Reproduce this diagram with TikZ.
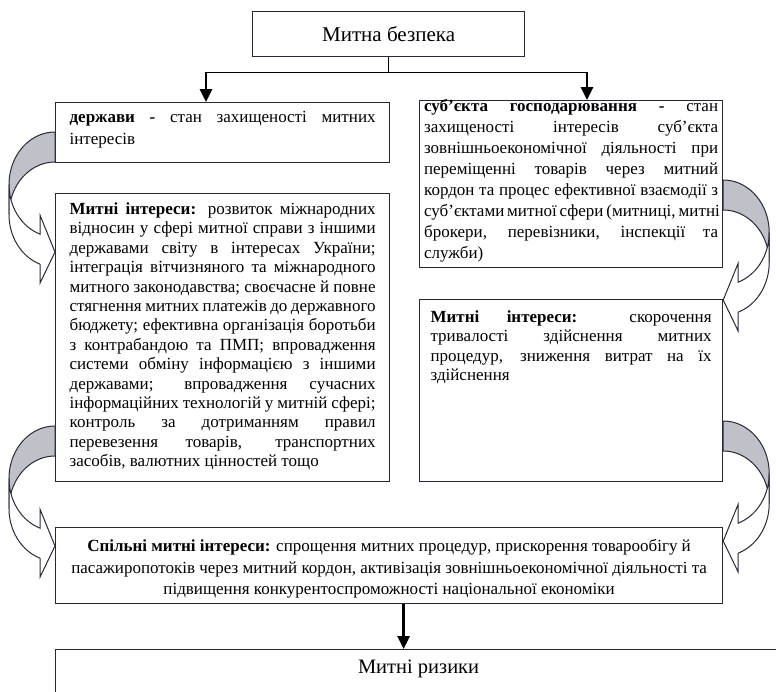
\documentclass[tikz,border=0pt]{standalone}
\usepackage{fontspec}
\setmainfont{Liberation Serif}
\usetikzlibrary{arrows.meta}
\definecolor{edgec}{RGB}{40,40,56}
\definecolor{backc}{RGB}{192,192,200}
% one justified line of a fixed-width paragraph
\newcommand{\jl}[1]{\makebox[\linewidth][s]{#1}}
\newcommand{\bodyfont}{\fontsize{17}{19.4}\selectfont}
\begin{document}
\begin{tikzpicture}[x=1pt,y=-1pt,
  box/.style={draw=edgec, line width=1.2pt, fill=white, inner sep=0pt,
    anchor=north west, font=\bodyfont},
  link/.style={line width=1.3pt, draw=black},
  conn/.style={line width=2.6pt, draw=black, -{Triangle[width=12pt,length=13pt]}},
  % curved block arrow: darker back band on top, front band ending in a head
  bandarrow/.pic={
    \filldraw[fill=backc, draw=edgec, line width=1pt]
      (0,0) -- plot[domain=270:180, samples=40] ({46*cos(\x)},{52.5+52.5*sin(\x)})
      -- (-46,82.5) -- plot[domain=180:270, samples=40] ({46*cos(\x)},{82.5+52.5*sin(\x)})
      -- cycle;
    \filldraw[fill=white, draw=edgec, line width=1pt]
      (-46,52.5) -- plot[domain=180:109.03, samples=30] ({46*cos(\x)},{52.5+52.5*sin(\x)})
      -- (-15,83.13) -- (0,120) -- (-15,151.13) -- (-15,132.13)
      -- plot[domain=109.03:180, samples=30] ({46*cos(\x)},{82.5+52.5*sin(\x)})
      -- cycle;
  }
]
\useasboundingbox (0,0) rectangle (776,691);
\clip (0,0) rectangle (776,691);

% top concept
\node[box, minimum width=272pt, minimum height=45pt,
  font=\fontsize{21}{25}\selectfont] (sec) at (252,11) {Митна безпека};

% state level
\node[box, inner xsep=14pt] (st) at (55,102) {\parbox[c][60pt][t]{306pt}{%
\fontsize{17}{21.5}\selectfont\vspace*{9pt}%
\jl{\textbf{держави -} стан захищеності митних}\\
інтересів}};

\node[box, inner xsep=14pt] (sti) at (55,193) {\parbox[c][288pt][t]{306pt}{\vspace*{9pt}%
\jl{\textbf{Митні інтереси:} розвиток міжнародних}\\
\jl{відносин у сфері митної справи з іншими}\\
\jl{державами світу в інтересах України;}\\
\jl{інтеграція вітчизняного та міжнародного}\\
\jl{митного законодавства; своєчасне й повне}\\
\jl{стягнення митних платежів до державного}\\
\jl{бюджету; ефективна організація боротьби}\\
\jl{з контрабандою та ПМП; впровадження}\\
\jl{системи обміну інформацією з іншими}\\
\jl{державами; впровадження сучасних}\\
\jl{інформаційних технологій у митній сфері;}\\
\jl{контроль за дотриманням правил}\\
\jl{перевезення товарів, транспортних}\\
засобів, валютних цінностей тощо}};

% business level
\node[box, inner xsep=4.5pt] (bus) at (419,100) {\parbox[c][167pt][t]{294pt}{%
\fontsize{17}{20.9}\selectfont\vspace*{-1pt}%
\jl{\textbf{суб’єкта господарювання -} стан}\\
\jl{захищеності інтересів суб’єкта}\\
\jl{зовнішньоекономічної діяльності при}\\
\jl{переміщенні товарів через митний}\\
\jl{кордон та процес ефективної взаємодії з}\\
\jl{суб’єктами митної сфери (митниці, митні}\\
\jl{брокери, перевізники, інспекції та}\\
служби)}};

\node[box, inner xsep=11pt] (busi) at (419,299) {\parbox[c][182pt][t]{281pt}{\vspace*{11pt}%
\jl{\textbf{Митні інтереси:} скорочення}\\
\jl{тривалості здійснення митних}\\
\jl{процедур, зниження витрат на їх}\\
здійснення}};

% common interests
\node[box, inner xsep=0pt] (com) at (55,527) {\parbox[c][76pt][t]{667pt}{\centering
\fontsize{17}{21.5}\selectfont\vspace*{12pt}%
\textbf{Спільні митні інтереси:} спрощення митних процедур, прискорення товарообігу й\\
пасажиропотоків через митний кордон, активізація зовнішньоекономічної діяльності та\\
підвищення конкурентоспроможності національної економіки}};

% risks
\node[box, inner xsep=0pt] (risk) at (55,649) {\parbox[c][60pt][t]{726pt}{\centering
\fontsize{20.5}{24}\selectfont\vspace*{10pt}Митні ризики}};

% links from the top concept
\draw[link] (sec.south) -- ++(0,15) coordinate (hub);
\draw[link] (hub -| 206,0) coordinate (hl) -- (hub -| 587,0) coordinate (hr);
\draw[conn] (hl) -- (hl |- st.north);
\draw[conn] (hr) -- (hr |- bus.north);
\draw[conn] ([xshift=14.5pt]com.south) -- ([xshift=14.5pt]com.south |- risk.north);

% curved block arrows
\pic at (st.west |- 0,132) {bandarrow};
\pic at (sti.west |- 0,426) {bandarrow};
\pic[xscale=-1] at (bus.east |- 0,180) {bandarrow};
\pic[xscale=-1] at (busi.east |- 0,421) {bandarrow};
\end{tikzpicture}
\end{document}
